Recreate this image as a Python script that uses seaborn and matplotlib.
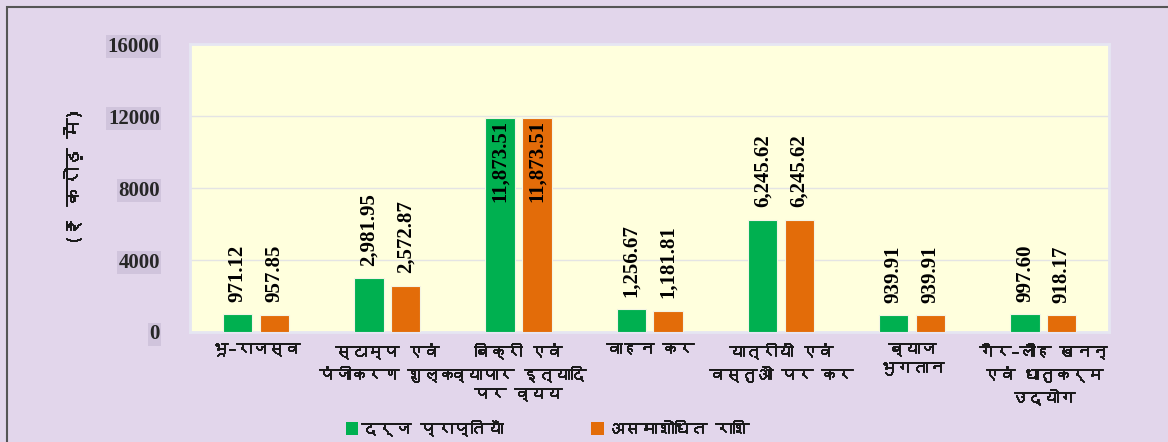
import pandas as pd
import matplotlib
matplotlib.use("Agg")
import matplotlib.pyplot as plt
import matplotlib.patheffects as pe
from matplotlib import font_manager
from matplotlib.patches import Rectangle, Patch
import seaborn as sns

categories = [
    "भू–राजस्व",
    "स्टाम्प एवं\nपंजीकरण शुल्क",
    "बिक्री एवं\nव्यापार इत्यादि\nपर व्यय",
    "वाहन कर",
    "यात्रीयों एवं\nवस्तुओं पर कर",
    "ब्याज\nभुगतान",
    "गैर–लौह खनन्\nएवं धातुकर्म\nउद्योग",
]
recorded = [971.12, 2981.95, 11873.51, 1256.67, 6245.62, 939.91, 997.60]
unreconciled = [957.85, 2572.87, 11873.51, 1181.81, 6245.62, 939.91, 918.17]
series_names = ["दर्ज प्राप्तियाँ", "असमाशोधित राशि"]
colors = ["#00B050", "#E36C09"]
yticks = [0, 4000, 8000, 12000, 16000]
ylabel = "(₹ करोड़ में)"


# look for any installed font that actually has Devanagari glyphs
def devanagari_font():
    try:
        from fontTools.ttLib import TTFont
    except ImportError:
        return None
    for f in font_manager.fontManager.ttflist:
        try:
            cmap = TTFont(f.fname, fontNumber=0, lazy=True).getBestCmap()
            if cmap and ord("क") in cmap:
                return f.name
        except Exception:
            pass
    return None


sns.set_style("white")
deva = devanagari_font()
hindi_fonts = ([deva] if deva else []) + ["Noto Sans", "DejaVu Sans"]
plt.rcParams["font.family"] = hindi_fonts
serif = ["Liberation Serif", "DejaVu Serif"]
txt_col = "#1A1A1A"
# the Devanagari face has no bold, so thicken it with a thin stroke
heavy = [pe.withStroke(linewidth=0.7, foreground=txt_col)]

bg = "#E2D6EB"
fig = plt.figure(figsize=(11.68, 4.42), dpi=100, facecolor=bg)
# outer border like the source frame
fig.patches.append(Rectangle((7 / 1168, -0.1), 1.2, 1 - 7 / 442 + 0.1, transform=fig.transFigure,
                             fill=False, edgecolor="#555555", linewidth=1.5))

ax = fig.add_axes([0.163, 0.249, 0.7865, 0.651])
ax.set_facecolor("#FFFFDD")

df = pd.DataFrame({
    "cat": categories * 2,
    "val": recorded + unreconciled,
    "series": [series_names[0]] * len(categories) + [series_names[1]] * len(categories),
})
sns.barplot(data=df, x="cat", y="val", hue="series", palette=colors, saturation=1,
            width=0.56, gap=0.2, errorbar=None, edgecolor="#F4F4E4", linewidth=0.8,
            ax=ax, legend=False, zorder=3)

# value labels, rotated; the tall pair sits inside the bar top
for cont in ax.containers:
    for bar, v in zip(cont, cont.datavalues):
        x = bar.get_x() + bar.get_width() / 2
        h = bar.get_height()
        kw = dict(rotation=90, ha="center", fontsize=15, fontweight="bold",
                  family=serif, color="black", zorder=4)
        if h > 10000:
            ax.annotate(f"{v:,.2f}", (x, h), xytext=(0, -1), textcoords="offset points", va="top", **kw)
        else:
            ax.annotate(f"{v:,.2f}", (x, h), xytext=(0, 9), textcoords="offset points", va="bottom", **kw)

ax.set_ylim(0, 16000)
ax.set_yticks(yticks)
ax.set_yticklabels([str(t) for t in yticks], family=serif, fontweight="bold", fontsize=15)
for lab in ax.get_yticklabels():
    lab.set_bbox(dict(facecolor="#D0C4DC", edgecolor="none", pad=1))
ax.tick_params(axis="y", length=0, pad=22)
ax.tick_params(axis="x", length=0, pad=8)
ax.set_xticks(range(len(categories)))
ax.set_xticklabels(categories, fontsize=11.5, fontweight="bold", linespacing=1.5, color=txt_col)
for lab in ax.get_xticklabels():
    lab.set_path_effects(heavy)
ax.set_xlabel("")
ax.set_ylabel(ylabel, fontsize=14, fontweight="bold", style="italic", color=txt_col,
              path_effects=heavy)
ax.yaxis.set_label_coords(-0.118, 0.54)

ax.grid(axis="y", color="#E4E4E4", linewidth=1, zorder=0)
ax.grid(axis="x", visible=False)
for s in ax.spines.values():
    s.set_color("#E6E6F2")
    s.set_linewidth(2)

handles = [Patch(facecolor=c, edgecolor="none") for c in colors]
leg = fig.legend(handles, series_names, loc="center left", bbox_to_anchor=(0.283, 0.032), ncol=2,
                 frameon=False, handlelength=0.75, handleheight=0.75, handletextpad=0.2,
                 columnspacing=5.3, prop=dict(size=12, weight="bold"))
for t in leg.get_texts():
    t.set_color(txt_col)
    t.set_path_effects(heavy)

fig.savefig("out.png", dpi=100, facecolor=bg)
